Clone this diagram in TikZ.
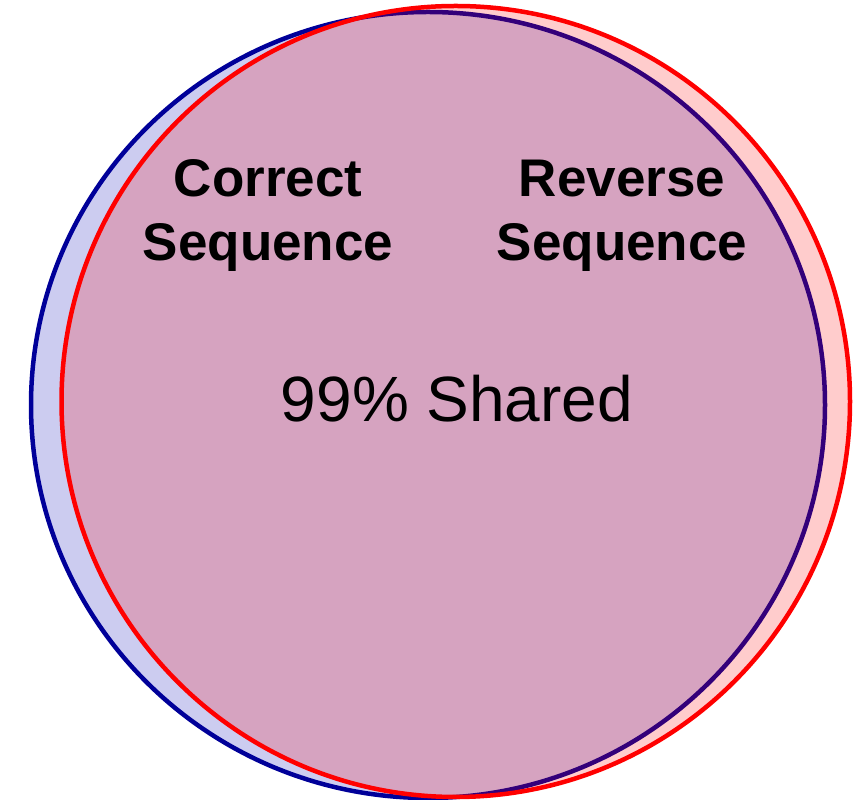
\documentclass[tikz,border=0pt]{standalone}
\usepackage{fontspec}
\setmainfont{Liberation Sans}
\definecolor{setblue}{RGB}{0,0,153}
\definecolor{setbluefill}{RGB}{0,0,180}
\definecolor{setred}{RGB}{255,0,0}
\begin{document}
\begin{tikzpicture}[x=1pt,y=1pt,
  setline/.style={line width=4.5pt},
  setlabel/.style={font=\fontsize{53}{64}\selectfont\bfseries, align=center, anchor=base, inner sep=0pt},
  sharedlabel/.style={font=\fontsize{64}{76}\selectfont, anchor=base, inner sep=0pt}]
  \useasboundingbox (0,0) rectangle (862,800);
  % correct-sequence set
  \path[setline, draw=setblue, fill=setbluefill, fill opacity=0.2]
    (428,395) ellipse [x radius=397, y radius=393];
  % reverse-sequence set, drawn over the first
  \path[setline, draw=setred, fill=setred, fill opacity=0.2]
    (455.75,398.5) ellipse [x radius=394.25, y radius=395.5];
  \node[setlabel] (correct) at (268,539) {Correct\\Sequence};
  \node[setlabel] (reverse) at (622,539) {Reverse\\Sequence};
  \node[sharedlabel] (shared) at (457,378) {99\% Shared};
\end{tikzpicture}
\end{document}
